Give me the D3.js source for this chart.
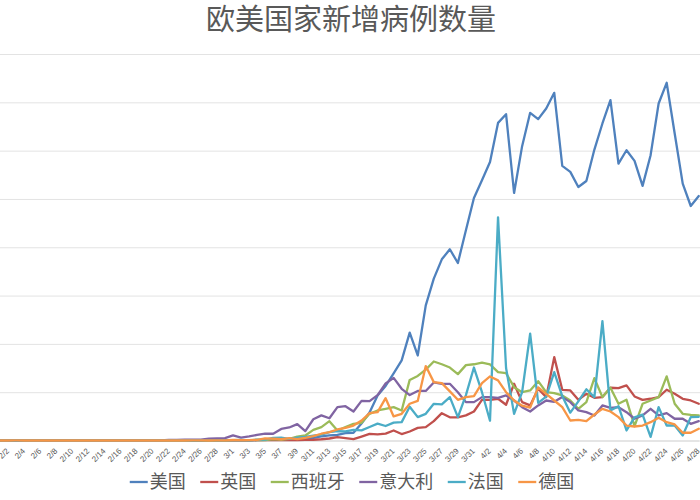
<!DOCTYPE html>
<html>
<head>
<meta charset="utf-8">
<script src="https://cdn.jsdelivr.net/npm/d3@7"></script>
<style>
  html, body { margin: 0; padding: 0; background: #ffffff; }
  svg { display: block; }
</style>
</head>
<body>
<svg id="chart" width="700" height="500"></svg>
<script>
// ---------- categories (dates) ----------
const febDates = ["1/31","2/1","2/2","2/3","2/4","2/5","2/6","2/7","2/8","2/9","2/10","2/11","2/12","2/13","2/14","2/15","2/16","2/17","2/18","2/19","2/20","2/21","2/22","2/23","2/24","2/25","2/26","2/27","2/28","2/29"];
const marDates = ["3/1","3/2","3/3","3/4","3/5","3/6","3/7","3/8","3/9","3/10","3/11","3/12","3/13","3/14","3/15","3/16","3/17","3/18","3/19","3/20","3/21","3/22","3/23","3/24","3/25","3/26","3/27","3/28","3/29","3/30","3/31"];
const aprDates = ["4/1","4/2","4/3","4/4","4/5","4/6","4/7","4/8","4/9","4/10","4/11","4/12","4/13","4/14","4/15","4/16","4/17","4/18","4/19","4/20","4/21","4/22","4/23","4/24","4/25","4/26","4/27","4/28"];
const dates = febDates.concat(marDates, aprDates);

// ---------- series (daily new cases) ----------
const usNew = [
  1,1,0,3,0,1,0,0,1,0,1,0,1,0,0,1,0,0,0,0,0,2,0,0,18,0,6,1,4,6,
  10,25,25,30,70,80,120,120,200,290,280,430,540,570,770,800,1760,2900,4660,5650,6940,8290,11160,8800,13990,16750,18750,19790,18370,21760,25100,
  26940,28830,32870,33770,25620,30460,33910,33260,34360,35980,28420,27800,26240,26860,30110,32810,35220,28660,30040,28940,26350,29530,34880,37020,31770,26590,24270,25300
];
const ukNew = [
  2,0,0,0,0,0,0,1,0,4,1,0,0,0,0,0,0,0,0,0,0,0,0,4,0,0,0,2,5,3,
  12,4,11,34,29,48,45,69,43,62,77,130,208,342,251,152,407,676,643,714,1035,665,930,1310,1380,2000,2830,2400,2400,2600,3000,
  4210,4210,4320,3700,5870,3970,3630,5350,4490,8630,5250,5180,4210,4830,4420,4490,5460,5420,5700,4560,4210,4320,4490,5250,4830,4320,4140,3800
];
const spainNew = [
  0,1,0,0,0,0,0,0,1,0,0,0,0,0,0,0,0,0,0,0,0,0,0,0,0,4,9,2,17,13,
  39,36,45,57,37,141,100,173,410,520,1100,1380,2000,1040,1380,1730,1830,2760,3110,3280,3450,3110,6270,6680,7340,8180,7890,7550,6870,7800,7890,
  8050,7870,7080,6970,5520,5000,5180,6140,5000,4900,4660,4140,3280,3970,6450,4490,5460,3800,4210,1480,3800,4140,4490,6630,3800,2760,2660,2600
];
const italyNew = [
  2,0,0,0,0,0,1,0,0,0,0,0,0,0,0,0,0,0,0,0,0,17,60,60,100,100,80,200,230,240,
  530,300,430,580,720,700,1200,1350,1700,970,2200,2600,2300,3450,3550,3000,4100,4070,4700,5900,6480,5350,4700,5130,5130,6010,5870,5870,5000,3970,3970,
  4490,4490,4420,4660,4140,3450,3000,3630,4140,4000,4490,3970,3110,2930,2590,3630,3380,3450,2930,2250,2590,3280,2590,2830,2250,2250,1730,2000
];
const franceNew = [
  0,0,0,0,0,0,0,5,0,0,0,0,0,0,0,0,0,0,0,0,0,0,0,0,0,2,4,20,19,43,
  30,61,13,84,92,276,296,177,286,372,497,600,860,960,950,1100,1050,1400,1750,1500,1850,1900,3500,2420,2760,3800,3730,4490,2420,4700,7550,
  5000,2050,23100,7500,2760,5000,11050,3900,4550,7080,4600,2880,4050,5300,4490,12360,3110,3550,1040,2400,2680,380,3450,1550,1550,520,2420,2450
];
const germanyNew = [
  2,0,2,4,0,0,0,0,1,0,0,0,0,0,0,0,0,0,0,0,0,0,0,0,0,10,20,0,10,13,
  51,29,37,66,220,188,129,241,136,281,451,700,860,1140,1310,1550,2070,2830,2930,4380,2490,2760,3800,4100,7700,6040,5940,5080,4210,4490,4590,
  5940,6630,6220,5000,4140,3600,3400,5500,4830,4140,3450,2070,2140,2000,2690,3280,3000,2420,1550,1450,1550,1900,2350,1900,1660,800,800,1210
];

const seriesNames = ["美国","英国","西班牙","意大利","法国","德国"];
const seriesColors = ["#4F81BD","#C0504D","#9BBB59","#8064A2","#4BACC6","#F79646"];
const yTickValues = [0,5000,10000,15000,20000,25000,30000,35000,40000];
const xTickLabels = dates.filter((d, i) => i % 2 === 0 && i > 0);
const titleText = "欧美国家新增病例数量";

const seriesData = [usNew, ukNew, spainNew, italyNew, franceNew, germanyNew];

// ---------- layout ----------
const W = 700, H = 500;
const svg = d3.select("#chart");
const cjk = "'Noto Sans CJK SC', 'Noto Sans', sans-serif";

const step = 8.03;
const firstLabelX = 8.2; // position of 2/2
const idx22 = dates.indexOf("2/2");
const x = d3.scalePoint()
  .domain(dates)
  .range([firstLabelX - idx22 * step, firstLabelX + (dates.length - 1 - idx22) * step]);

const y = d3.scaleLinear().domain([0, 40000]).range([440.5, 54]);

// gridlines
const grid = svg.append("g")
  .call(d3.axisLeft(y).tickValues(yTickValues).tickSize(-W).tickFormat(""));
grid.select(".domain").remove();
grid.selectAll(".tick line").attr("stroke", "#e3e3e3").attr("stroke-width", 1);

// x axis labels
const xAxis = svg.append("g").attr("transform", "translate(0,440.5)")
  .call(d3.axisBottom(x).tickValues(xTickLabels).tickSize(0).tickPadding(0));
xAxis.select(".domain").attr("stroke", "#d9d9d9");
xAxis.selectAll(".tick text")
  .attr("font-family", "'Liberation Sans', Arial, sans-serif")
  .attr("font-size", 8)
  .attr("fill", "#595959")
  .attr("text-anchor", "end")
  .attr("dy", "0.35em")
  .attr("y", 0)
  .attr("transform", "translate(-1,9) rotate(-45)");

// lines
const line = d3.line()
  .x((d, i) => x(dates[i]))
  .y(d => y(d));

const lines = svg.append("g");
seriesData.forEach((vals, k) => {
  lines.append("path")
    .datum(vals)
    .attr("fill", "none")
    .attr("stroke", seriesColors[k])
    .attr("stroke-width", 2.3)
    .attr("stroke-linejoin", "round")
    .attr("stroke-linecap", "round")
    .attr("d", line);
});

// title
svg.append("text")
  .attr("x", 351).attr("y", 30)
  .attr("text-anchor", "middle")
  .attr("font-family", cjk)
  .attr("font-size", 29)
  .attr("fill", "#595959")
  .text(titleText);

// legend
const legendFont = 18;
const gap = 14.5;
const itemWidths = seriesNames.map(n => 20 + n.length * legendFont);
const totalW = d3.sum(itemWidths) + gap * (seriesNames.length - 1);
let lx = 352 - totalW / 2;
const legend = svg.append("g");
seriesNames.forEach((n, k) => {
  const g = legend.append("g").attr("transform", `translate(${lx},482)`);
  g.append("line").attr("x1", 0).attr("x2", 18).attr("y1", 0).attr("y2", 0)
    .attr("stroke", seriesColors[k]).attr("stroke-width", 2.3);
  g.append("text").attr("x", 20).attr("y", 0).attr("dy", "0.36em")
    .attr("font-family", cjk).attr("font-size", legendFont).attr("fill", "#595959")
    .text(n);
  lx += itemWidths[k] + gap;
});
</script>
</body>
</html>
